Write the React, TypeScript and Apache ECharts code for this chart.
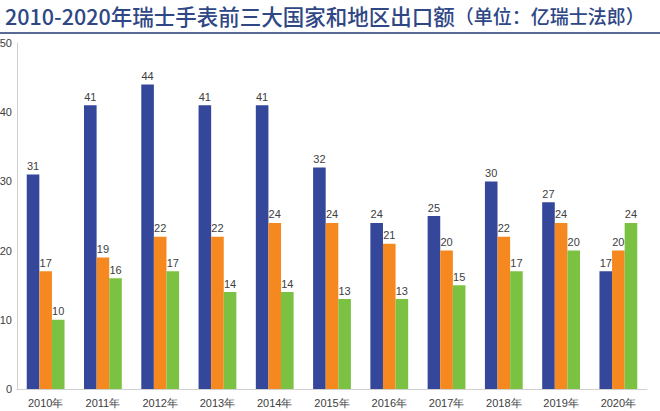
import React, { useEffect, useRef } from "react";
import * as echarts from "echarts";

const categories = ["2010年", "2011年", "2012年", "2013年", "2014年", "2015年", "2016年", "2017年", "2018年", "2019年", "2020年"];
const hongKong = [31, 41, 44, 41, 41, 32, 24, 25, 30, 27, 17];
const usa = [17, 19, 22, 22, 24, 24, 21, 20, 22, 24, 20];
const chinaMainland = [10, 16, 17, 14, 14, 13, 13, 15, 17, 20, 24];
const seriesNames = ["中国香港", "美国", "中国大陆"];
const colors = ["#34479a", "#f5881f", "#7cc242"];

export default function App() {
  const ref = useRef<HTMLDivElement>(null);
  useEffect(() => {
    if (!ref.current) return;
    const chart = echarts.init(ref.current, null, { renderer: "svg" });
    const labelStyle = { show: true, position: "top", distance: 3, color: "#404040", fontSize: 11, fontFamily: "Liberation Sans, Arial" };
    const mk = (name: string, data: number[], color: string) => ({
      name,
      type: "bar",
      data,
      barGap: "0%",
      barCategoryGap: "34%",
      itemStyle: { color },
      label: labelStyle,
    });
    chart.setOption({
      animation: false,
      backgroundColor: "#ffffff",
      title: {
        left: 5,
        top: 1,
        padding: 0,
        text: "{a|2010-2020年瑞士手表前三大国家和地区出口额}{b|（单位：亿瑞士法郎）}",
        textStyle: {
          rich: {
            a: { fontSize: 21.5, lineHeight: 28, color: "#2f4785", fontFamily: "Noto Sans CJK SC", fontWeight: 500 },
            b: { fontSize: 19, lineHeight: 28, color: "#2f4785", fontFamily: "Noto Sans CJK SC", fontWeight: 500 },
          },
        },
      },
      graphic: [
        {
          type: "line",
          shape: { x1: 0, y1: 33, x2: 660, y2: 33 },
          style: { stroke: "#5a6a96", lineWidth: 2 },
        },
      ],
      legend: { show: false },
      grid: { left: 17, right: 13, top: 43, bottom: 22, containLabel: false, outerBoundsMode: "none" },
      xAxis: {
        type: "category",
        data: categories,
        axisLine: { lineStyle: { color: "#d0d0d0", width: 1 } },
        axisTick: { show: false },
        axisLabel: { color: "#404040", fontSize: 11, margin: 8, fontFamily: "Liberation Sans, Arial" },
      },
      yAxis: {
        type: "value",
        min: 0,
        max: 50,
        interval: 10,
        axisLine: { show: true, lineStyle: { color: "#d0d0d0", width: 1 } },
        axisTick: { show: false },
        splitLine: { show: false },
        axisLabel: { color: "#404040", fontSize: 11, margin: 5, fontFamily: "Liberation Sans, Arial" },
      },
      series: [
        mk(seriesNames[0], hongKong, colors[0]),
        mk(seriesNames[1], usa, colors[1]),
        mk(seriesNames[2], chinaMainland, colors[2]),
      ],
    });
    return () => chart.dispose();
  }, []);
  return <div ref={ref} style={{ width: 660, height: 411, position: "fixed", left: 0, top: 0 }} />;
}
